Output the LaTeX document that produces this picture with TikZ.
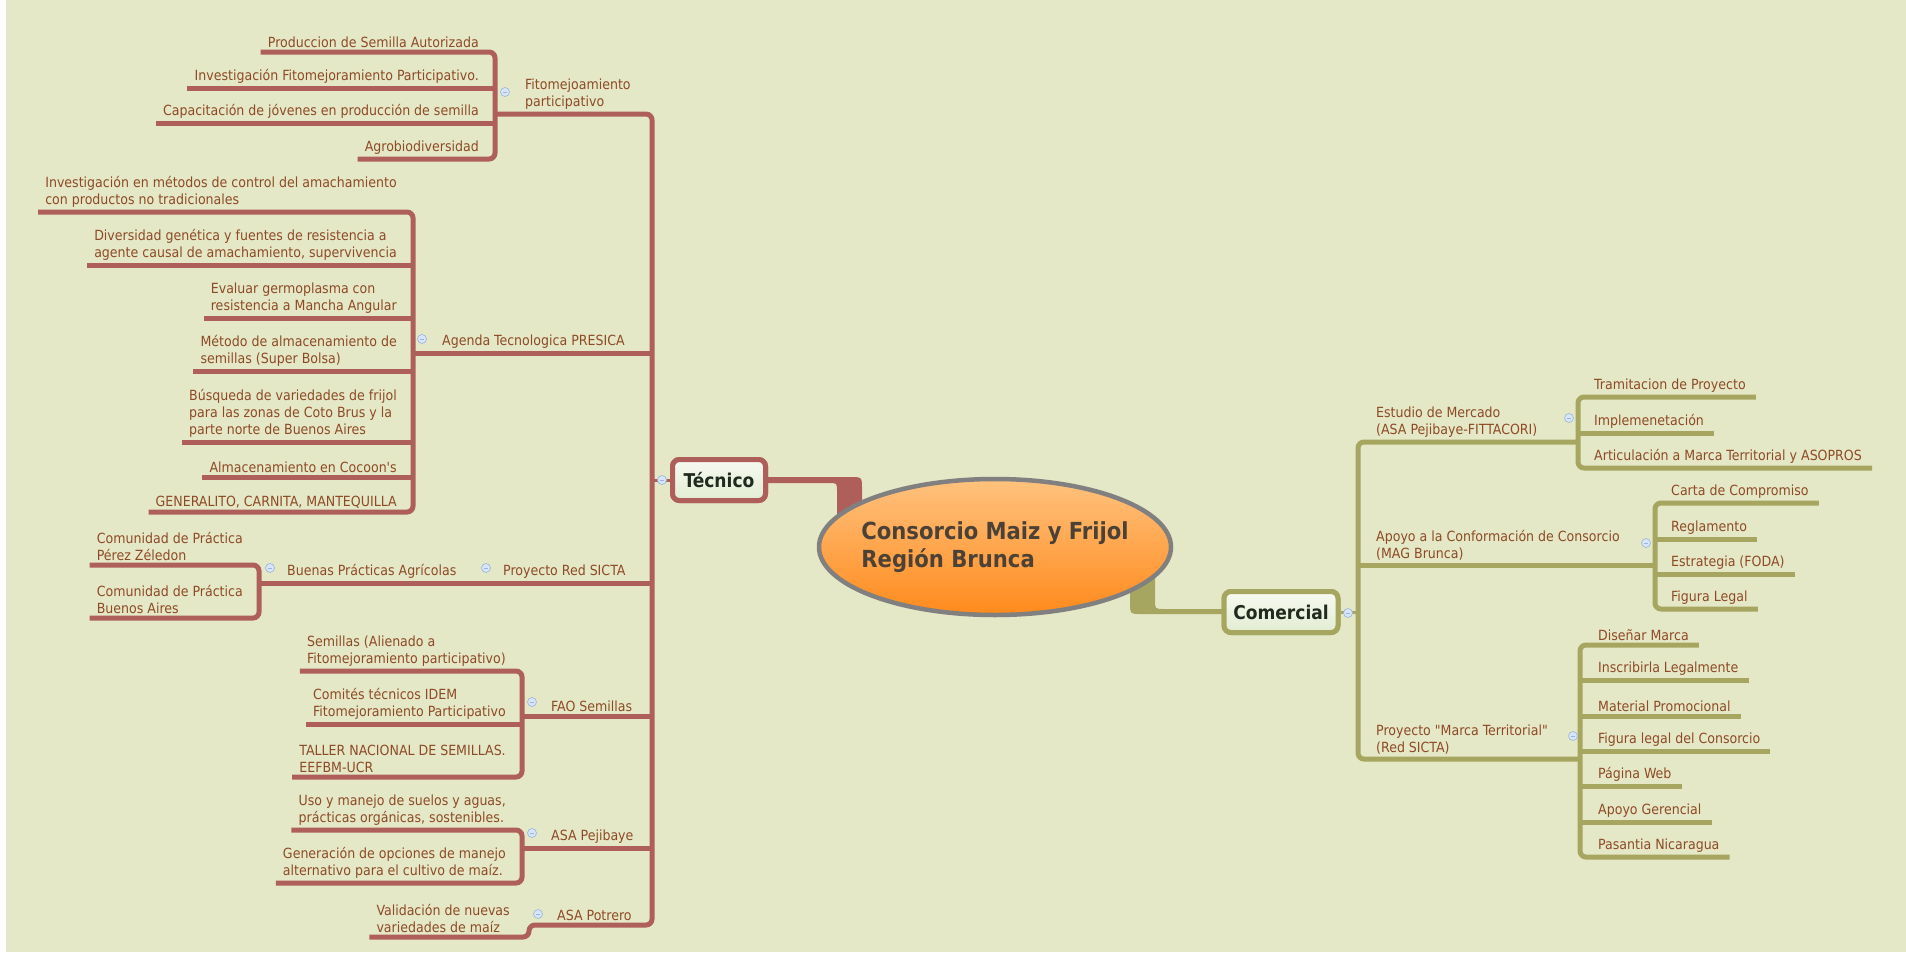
\documentclass[tikz,border=0pt]{standalone}
\usepackage{fontspec}
\setmainfont{DejaVu Sans Condensed}[Ligatures=TeXOff]
\usetikzlibrary{calc,shapes.geometric}
\definecolor{bgc}{HTML}{E4E8C6}
\definecolor{tcol}{HTML}{AF5F5A}
\definecolor{ccol}{HTML}{A6A660}
\definecolor{txt}{HTML}{8E4A26}
\definecolor{boxtxt}{HTML}{1E2B1E}
\definecolor{ttl}{HTML}{4B4136}
\definecolor{boxtop}{HTML}{F7FAF0}
\definecolor{boxbot}{HTML}{E2ECD2}
\definecolor{orL}{HTML}{FFC27E}
\definecolor{orD}{HTML}{FF8A1C}
\definecolor{iconf}{HTML}{D8E5F6}
\definecolor{icond}{HTML}{98B4DF}
\begin{document}
\begin{tikzpicture}[x=1pt,y=-1pt,
  tline/.style={draw=tcol, line width=5pt, rounded corners=6pt},
  cline/.style={draw=ccol, line width=5pt, rounded corners=6pt},
  lbl/.style={text=txt, font=\fontsize{14}{17}\selectfont, align=left, inner sep=1pt},
  lkid/.style={lbl, anchor=south east},
  rkid/.style={lbl, anchor=south west},
  par/.style={lbl, anchor=south west},
  icon/.style={circle, minimum size=9pt, inner sep=0pt, fill=iconf, draw=icond, line width=0.6pt,
    path picture={\draw[icond, line width=0.9pt] ($(path picture bounding box.center)+(-2.2,0)$) -- ($(path picture bounding box.center)+(2.2,0)$);}},
  mainbox/.style={rounded corners=7pt, line width=5pt, top color=boxtop, bottom color=boxbot,
    text=boxtxt, font=\bfseries\fontsize{19}{22}\selectfont, minimum height=41pt, inner sep=0pt}
]
\fill[white] (0,0) rectangle (1906,953);
\fill[bgc] (6,0) rectangle (1906,952);
\useasboundingbox (0,0) rectangle (1906,953);

% ---------------- central part ----------------
\node[mainbox, draw=tcol, minimum width=93pt] (tec) at (719,480) {Técnico};
\node[mainbox, draw=ccol, minimum width=114pt] (com) at (1281,612) {Comercial};

\fill[tcol] ($(tec.east)+(-3,-3)$) -- (850,477) .. controls (862,477) .. (862,489) -- (862,530)
  -- (837,530) -- (837,491) .. controls (837,483) .. (829,483) -- ($(tec.east)+(-3,3)$) -- cycle;
\fill[ccol] (1130,580) -- (1130,603) .. controls (1130,614) .. (1141,614) -- ($(com.west)+(3,2)$)
  -- ($(com.west)+(3,-3)$) -- (1164,609) .. controls (1155,609) .. (1155,600) -- (1155,572) -- cycle;

\node[ellipse, draw=black!50, line width=4.5pt, top color=orL, bottom color=orD,
  minimum width=352pt, minimum height=136pt, inner sep=0pt] (ctr) at (995,547) {};
\node[text=ttl, font=\bfseries\fontsize{23.5}{28}\selectfont, align=left, inner sep=0pt] (title) at (995,547)
  {Consorcio Maiz y Frijol\\Región Brunca};

% redraw boxes on top of bands
\node[mainbox, draw=tcol, minimum width=93pt] at (tec.center) {Técnico};
\node[mainbox, draw=ccol, minimum width=114pt] at (com.center) {Comercial};

% ---------------- Técnico side ----------------
\coordinate (tTop) at (652,114);
\coordinate (tBot) at (652,925);
\coordinate (fB) at (495,114);
\coordinate (aB) at (413,353);
\coordinate (sB) at (259,583);
\coordinate (sJ) at (469,583);
\coordinate (oB) at (522,716);
\coordinate (jB) at (522,848);
\coordinate (pJ) at (529,937);

% Fitomejoamiento
\node[lkid] (f1) at (480,49) {Produccion de Semilla Autorizada};
\node[lkid] (f2) at (480,85) {Investigación Fitomejoramiento Participativo.};
\node[lkid] (f3) at (480,120) {Capacitación de jóvenes en producción de semilla};
\node[lkid] (f4) at (480,156) {Agrobiodiversidad};
\draw[tline] ($(f1.south west)+(-6,3)$) -- ($(f1.south east)+(15,3)$) -- ($(f4.south east)+(15,3)$) -- ($(f4.south west)+(-6,3)$);
\draw[tline] ($(f2.south west)+(-6,3)$) -- ($(f2.south east)+(15,3)$);
\draw[tline] ($(f3.south west)+(-6,3)$) -- ($(f3.south east)+(15,3)$);
\node[par] (fito) at (524,111) {Fitomejoamiento\\participativo};

% Agenda
\node[lkid] (a1) at (398,209) {Investigación en métodos de control del amachamiento\\con productos no tradicionales};
\node[lkid] (a2) at (398,262) {Diversidad genética y fuentes de resistencia a\\agente causal de amachamiento, supervivencia};
\node[lkid] (a3) at (398,315) {Evaluar germoplasma con\\resistencia a Mancha Angular};
\node[lkid] (a4) at (398,368) {Método de almacenamiento de\\semillas (Super Bolsa)};
\node[lkid] (a5) at (398,439) {Búsqueda de variedades de frijol\\para las zonas de Coto Brus y la\\parte norte de Buenos Aires};
\node[lkid] (a6) at (398,474) {Almacenamiento en Cocoon's};
\node[lkid] (a7) at (398,509) {GENERALITO, CARNITA, MANTEQUILLA};
\draw[tline] ($(a1.south west)+(-6,3)$) -- ($(a1.south east)+(15,3)$) -- ($(a7.south east)+(15,3)$) -- ($(a7.south west)+(-6,3)$);
\foreach \n in {a2,a3,a4,a5,a6}
  \draw[tline] ($(\n.south west)+(-6,3)$) -- ($(\n.south east)+(15,3)$);
\node[par] (agenda) at (441,350) {Agenda Tecnologica PRESICA};

% Red SICTA
\node[lkid] (s1) at (244,562) {Comunidad de Práctica\\Pérez Zéledon};
\node[lkid] (s2) at (244,615) {Comunidad de Práctica\\Buenos Aires};
\draw[tline] ($(s1.south west)+(-6,3)$) -- ($(s1.south east)+(15,3)$) -- ($(s2.south east)+(15,3)$) -- ($(s2.south west)+(-6,3)$);
\node[par] (bpa) at (286,580) {Buenas Prácticas Agrícolas};
\node[par] (red) at (502,580) {Proyecto Red SICTA};

% FAO
\node[lkid] (o1) at (507,668) {Semillas (Alienado a\\Fitomejoramiento participativo)};
\node[lkid] (o2) at (507,721) {Comités técnicos IDEM\\Fitomejoramiento Participativo};
\node[lkid] (o3) at (507,774) {TALLER NACIONAL DE SEMILLAS.\\EEFBM-UCR};
\draw[tline] ($(o1.south west)+(-6,3)$) -- ($(o1.south east)+(15,3)$) -- ($(o3.south east)+(15,3)$) -- ($(o3.south west)+(-6,3)$);
\draw[tline] ($(o2.south west)+(-6,3)$) -- ($(o2.south east)+(15,3)$);
\node[par] (fao) at (550,713) {FAO Semillas};

% ASA Pejibaye
\node[lkid] (j1) at (507,827) {Uso y manejo de suelos y aguas,\\prácticas orgánicas, sostenibles.};
\node[lkid] (j2) at (507,880) {Generación de opciones de manejo\\alternativo para el cultivo de maíz.};
\draw[tline] ($(j1.south west)+(-6,3)$) -- ($(j1.south east)+(15,3)$) -- ($(j2.south east)+(15,3)$) -- ($(j2.south west)+(-6,3)$);
\node[par] (pej) at (550,845) {ASA Pejibaye};

% ASA Potrero
\node[lkid] (p1) at (511,934) {Validación de nuevas\\variedades de maíz};
\node[par] (pot) at (556,922) {ASA Potrero};

% trunk and branch connectors
\draw[tline] (fB) -| (tBot) -| (pJ) -- ($(p1.south west)+(-6,3)$);
\draw[tline] (aB) -- (aB -| tTop);
\draw[tline] (sB) -- (sJ);
\draw[tline] (sJ) -- (sJ -| tTop);
\draw[tline] (oB) -- (oB -| tTop);
\draw[tline] (jB) -- (jB -| tTop);
\draw[tline, line width=3pt] (tec.west) -- (tec.west -| tTop);

% icons
\node[icon] (itec) at (662,480) {};
\node[icon] (ifito) at (505,92) {};
\node[icon] (iagenda) at (422,339) {};
\node[icon] (ibpa) at (270,568) {};
\node[icon] (ired) at (486,568) {};
\node[icon] (ifao) at (532,702) {};
\node[icon] (ipej) at (532,833) {};
\node[icon] (ipot) at (538,914) {};

% ---------------- Comercial side ----------------
\coordinate (cTop) at (1358,442);
\coordinate (cBot) at (1358,759);
\coordinate (eB) at (1578,442);
\coordinate (rB) at (1655,565);
\coordinate (mB) at (1580,759);

\draw[cline] (eB) -- (cTop) -- (cBot) -- (mB);
\draw[cline] (rB -| cTop) -- (rB);
\draw[cline, line width=3pt] (com.east) -- (com.east -| cTop);

% Estudio de Mercado
\node[rkid] (e1) at (1593,394) {Tramitacion de Proyecto};
\node[rkid] (e2) at (1593,430) {Implemenetación};
\node[rkid] (e3) at (1593,465) {Articulación a Marca Territorial y ASOPROS};
\draw[cline] ($(e1.south east)+(9,3)$) -- ($(e1.south west)+(-15,3)$) -- ($(e3.south west)+(-15,3)$) -- ($(e3.south east)+(9,3)$);
\draw[cline] ($(e2.south west)+(-15,3)$) -- ($(e2.south east)+(9,3)$);
\node[par] (est) at (1375,439) {Estudio de Mercado\\(ASA Pejibaye-FITTACORI)};

% Apoyo
\node[rkid] (r1) at (1670,500) {Carta de Compromiso};
\node[rkid] (r2) at (1670,536) {Reglamento};
\node[rkid] (r3) at (1670,571) {Estrategia (FODA)};
\node[rkid] (r4) at (1670,606) {Figura Legal};
\draw[cline] ($(r1.south east)+(9,3)$) -- ($(r1.south west)+(-15,3)$) -- ($(r4.south west)+(-15,3)$) -- ($(r4.south east)+(9,3)$);
\draw[cline] ($(r2.south west)+(-15,3)$) -- ($(r2.south east)+(9,3)$);
\draw[cline] ($(r3.south west)+(-15,3)$) -- ($(r3.south east)+(9,3)$);
\node[par] (apo) at (1375,562) {Apoyo a la Conformación de Consorcio\\(MAG Brunca)};

% Marca Territorial
\node[rkid] (m1) at (1597,642) {Diseñar Marca};
\node[rkid] (m2) at (1597,677) {Inscribirla Legalmente};
\node[rkid] (m3) at (1597,713) {Material Promocional};
\node[rkid] (m4) at (1597,748) {Figura legal del Consorcio};
\node[rkid] (m5) at (1597,783) {Página Web};
\node[rkid] (m6) at (1597,819) {Apoyo Gerencial};
\node[rkid] (m7) at (1597,854) {Pasantia Nicaragua};
\draw[cline] ($(m1.south east)+(9,3)$) -- ($(m1.south west)+(-17,3)$) -- ($(m7.south west)+(-17,3)$) -- ($(m7.south east)+(9,3)$);
\foreach \n in {m2,m3,m4,m5,m6}
  \draw[cline] ($(\n.south west)+(-17,3)$) -- ($(\n.south east)+(9,3)$);
\node[par] (mar) at (1375,756) {Proyecto "Marca Territorial"\\(Red SICTA)};

% icons
\node[icon] (icom) at (1348,613) {};
\node[icon] (iest) at (1569,418) {};
\node[icon] (iapo) at (1646,543) {};
\node[icon] (imar) at (1573,736) {};
\end{tikzpicture}
\end{document}
